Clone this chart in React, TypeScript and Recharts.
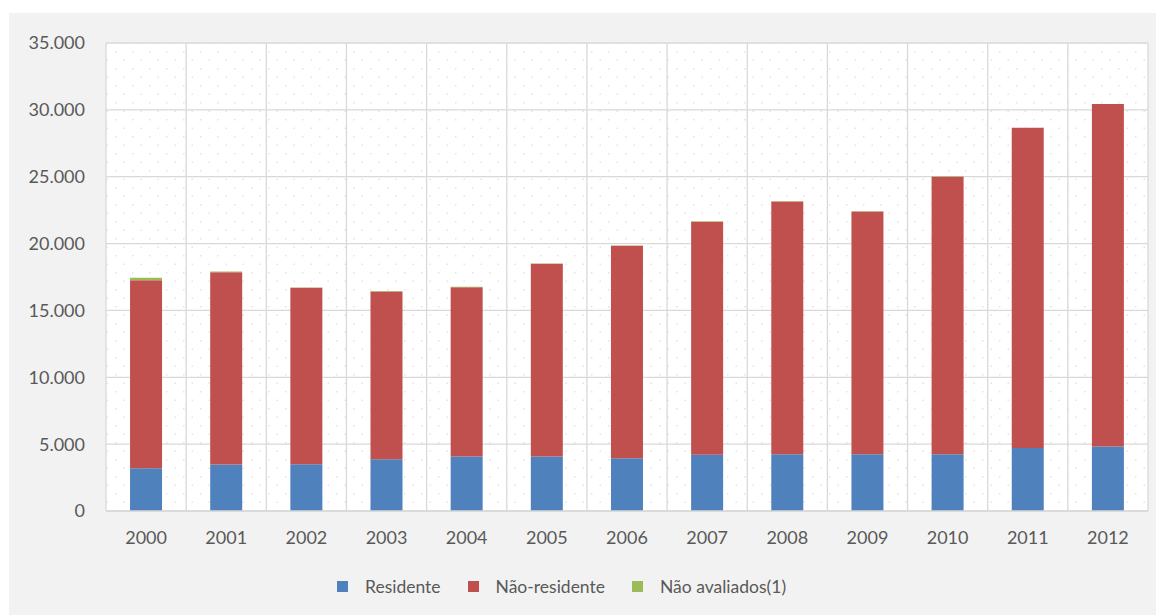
import { Bar, BarChart, CartesianGrid, Legend, XAxis, YAxis } from "recharts";

const years = ["2000", "2001", "2002", "2003", "2004", "2005", "2006", "2007", "2008", "2009", "2010", "2011", "2012"];
const residente = [3200, 3470, 3500, 3870, 4070, 4070, 3950, 4200, 4250, 4250, 4250, 4720, 4820];
const naoResidente = [14050, 14390, 13190, 12550, 12670, 14420, 15890, 17440, 18890, 18140, 20740, 23940, 25610];
const naoAvaliados = [200, 50, 20, 30, 30, 20, 20, 20, 20, 20, 40, 10, 10];
const yTicks = [0, 5000, 10000, 15000, 20000, 25000, 30000, 35000];

const series = [
  { key: "residente", name: "Residente", color: "#4f81bd" },
  { key: "naoResidente", name: "Não-residente", color: "#c0504d" },
  { key: "naoAvaliados", name: "Não avaliados(1)", color: "#9bbb59" },
];

const data = years.map((year, i) => ({
  year,
  residente: residente[i],
  naoResidente: naoResidente[i],
  naoAvaliados: naoAvaliados[i],
}));

const textColor = "#595959";
const font = "Lato, 'Open Sans', sans-serif";
const tickStyle = { fill: textColor, fontSize: 18, fontFamily: font };

const formatThousands = (v: number) => String(v).replace(/\B(?=(\d{3})+(?!\d))/g, ".");

function LegendContent() {
  return (
    <div style={{ display: "flex", alignItems: "center", fontFamily: font, fontSize: 17.5, color: textColor }}>
      {series.map((s) => (
        <div key={s.key} style={{ display: "flex", alignItems: "center", marginRight: 27 }}>
          <span style={{ width: 11, height: 11, background: s.color, marginRight: 17, display: "inline-block" }} />
          <span>{s.name}</span>
        </div>
      ))}
    </div>
  );
}

export default function App() {
  return (
    <div style={{ marginLeft: 1, marginTop: 5, width: 1155, height: 602, background: "#f2f2f2" }}>
      <BarChart
        width={1155}
        height={602}
        data={data}
        margin={{ top: 30, right: 16, left: 17, bottom: 43 }}
        barCategoryGap="30%"
      >
        <defs>
          <pattern id="dots" width="17" height="17" patternUnits="userSpaceOnUse">
            <rect width="17" height="17" fill="#ffffff" />
            <rect x="4" y="4" width="1.5" height="1.5" fill="#e4e4e4" />
            <rect x="12.5" y="12.5" width="1.5" height="1.5" fill="#e4e4e4" />
          </pattern>
        </defs>
        <CartesianGrid
          stroke="#d9d9d9"
          strokeWidth={1.3}
          fill="url(#dots)"
          fillOpacity={1}
          verticalCoordinatesGenerator={({ offset }: any) =>
            Array.from({ length: years.length + 1 }, (_, i) => offset.left + (offset.width * i) / years.length)
          }
        />
        <XAxis
          dataKey="year"
          axisLine={{ stroke: "#d9d9d9", strokeWidth: 1.3 }}
          tickLine={false}
          tickSize={0}
          tickMargin={20}
          tick={tickStyle}
          height={40}
        />
        <YAxis
          domain={[0, 35000]}
          ticks={yTicks}
          axisLine={false}
          tickLine={false}
          tickSize={0}
          tickMargin={21}
          tick={tickStyle}
          tickFormatter={formatThousands}
          width={80}
        />
        {series.map((s) => (
          <Bar key={s.key} dataKey={s.key} name={s.name} stackId="a" fill={s.color} isAnimationActive={false} />
        ))}
        <Legend
          content={<LegendContent />}
          wrapperStyle={{ position: "absolute", left: 328, top: 563, width: "auto" }}
        />
      </BarChart>
    </div>
  );
}
